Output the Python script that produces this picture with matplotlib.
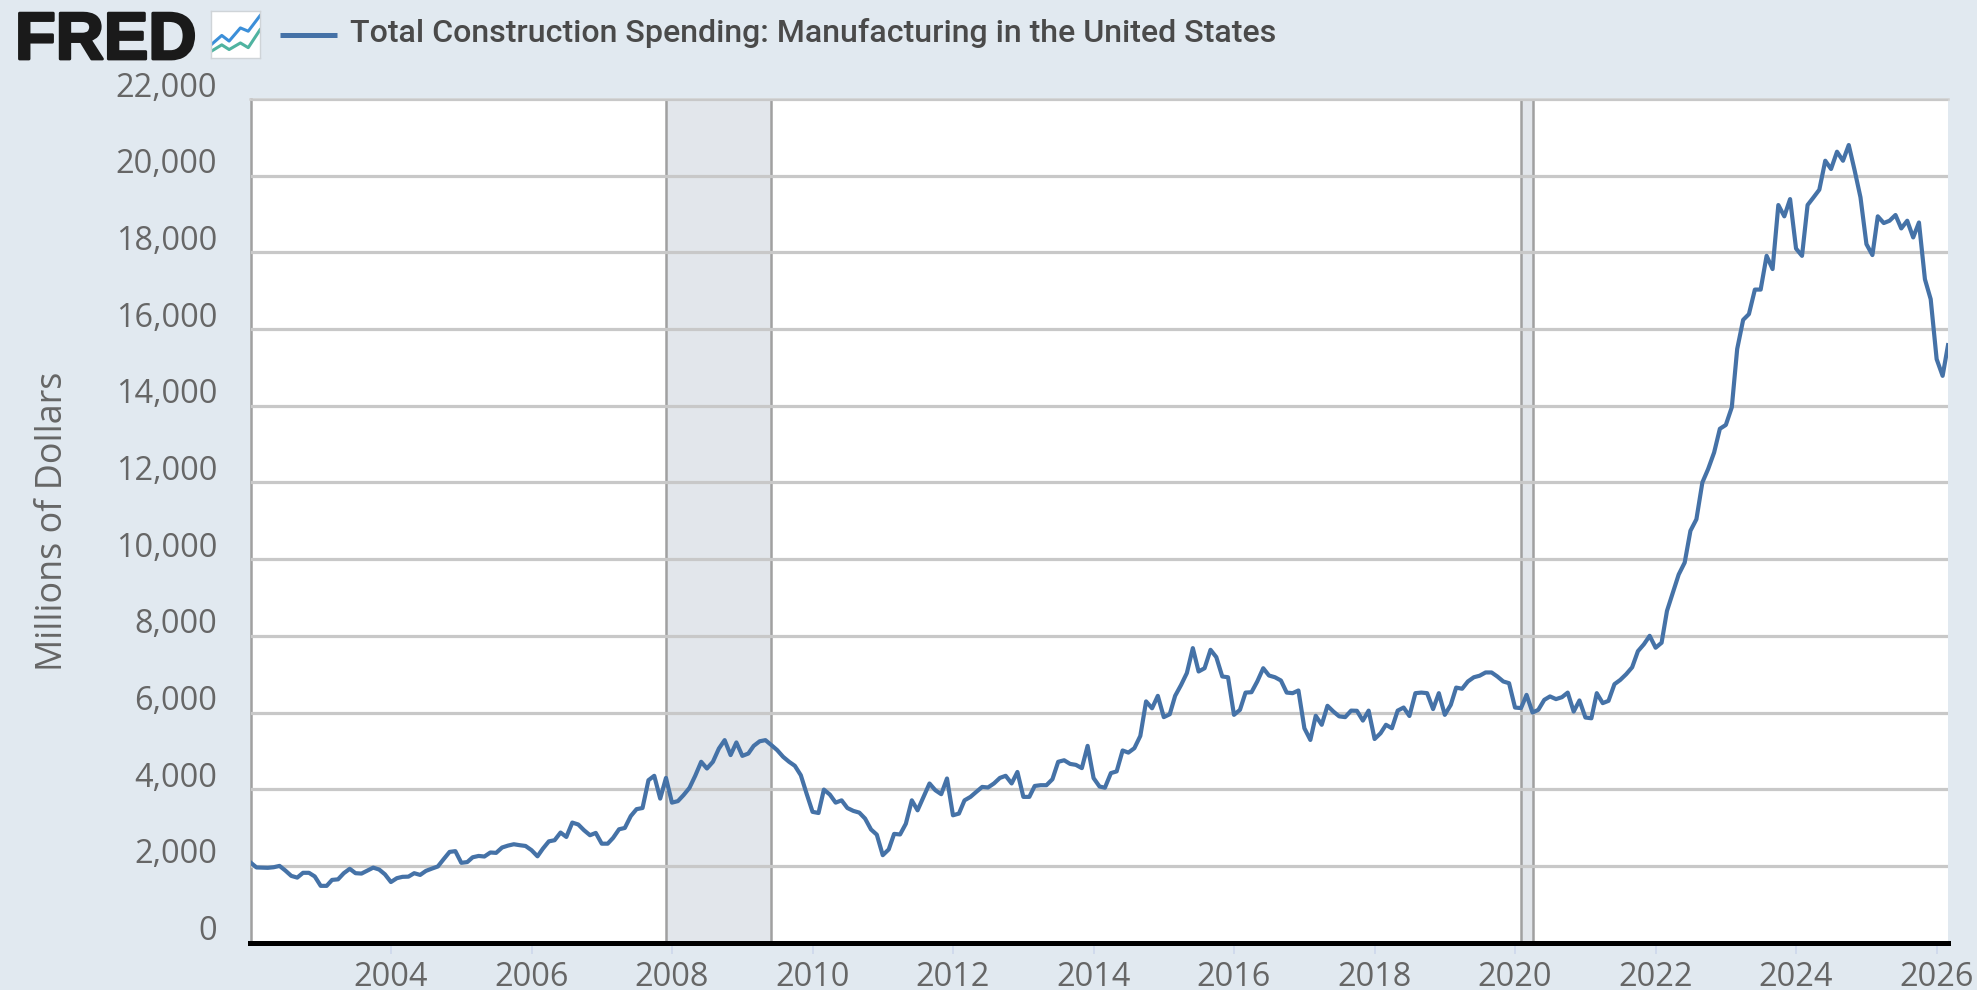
"""
FRED chart: Total Construction Spending, Manufacturing in the United States.
Saves out.png (1977x990).
"""

import matplotlib
matplotlib.use("Agg")
import matplotlib.dates as mdates
import matplotlib.patheffects as pe
import matplotlib.pyplot as plt
from matplotlib.lines import Line2D
from matplotlib.transforms import ScaledTranslation
import pandas as pd

# ── data (monthly from Jan 2002) ─────────────────────────────────────────────
Y2002 = [2090, 1960, 1955, 1950, 1965, 2000, 1880, 1740, 1695, 1820, 1820, 1725]
Y2003 = [1480, 1480, 1635, 1650, 1810, 1925, 1810, 1800, 1880, 1955, 1905, 1780]
Y2004 = [1580, 1680, 1715, 1720, 1810, 1765, 1870, 1930, 1985, 2175, 2365, 2385]
Y2005 = [2080, 2100, 2225, 2260, 2245, 2350, 2340, 2480, 2530, 2565, 2540, 2520]
Y2006 = [2410, 2250, 2450, 2640, 2670, 2870, 2755, 3130, 3080, 2930, 2800, 2860]
Y2007 = [2580, 2580, 2730, 2955, 2990, 3300, 3480, 3510, 4235, 4350, 3755, 4295]
Y2008 = [3650, 3690, 3845, 4035, 4350, 4715, 4540, 4715, 5060, 5280, 4890, 5220]
Y2009 = [4870, 4930, 5130, 5250, 5280, 5150, 5020, 4845, 4715, 4610, 4365, 3885]
Y2010 = [3410, 3380, 3990, 3860, 3650, 3710, 3510, 3435, 3390, 3235, 2950, 2815]
Y2011 = [2280, 2430, 2835, 2820, 3100, 3710, 3450, 3800, 4150, 3975, 3870, 4280]
Y2012 = [3320, 3365, 3710, 3800, 3930, 4060, 4045, 4150, 4295, 4350, 4150, 4450]
Y2013 = [3800, 3800, 4085, 4105, 4105, 4260, 4715, 4755, 4660, 4635, 4550, 5130]
Y2014 = [4290, 4070, 4040, 4420, 4465, 5010, 4955, 5070, 5390, 6290, 6110, 6435]
Y2015 = [5880, 5955, 6435, 6720, 7030, 7680, 7070, 7155, 7635, 7445, 6940, 6920]
Y2016 = [5940, 6070, 6520, 6530, 6810, 7155, 6965, 6920, 6835, 6520, 6505, 6575]
Y2017 = [5590, 5285, 5915, 5680, 6175, 6025, 5900, 5880, 6050, 6045, 5790, 6050]
Y2018 = [5310, 5460, 5680, 5590, 6050, 6130, 5910, 6505, 6520, 6505, 6090, 6505]
Y2019 = [5940, 6200, 6650, 6620, 6810, 6920, 6960, 7045, 7045, 6940, 6810, 6765]
Y2020 = [6130, 6115, 6460, 6000, 6070, 6330, 6420, 6350, 6400, 6520, 6025, 6315]
Y2021 = [5870, 5850, 6505, 6245, 6305, 6740, 6850, 7000, 7180, 7600, 7780, 8000]
Y2022 = [7690, 7820, 8650, 9130, 9600, 9910, 10740, 11040, 12000, 12350, 12780, 13400]
Y2023 = [13500, 13960, 15480, 16240, 16390, 17030, 17030, 17910, 17565, 19235, 18940, 19390]
Y2024 = [18100, 17910, 19235, 19435, 19635, 20390, 20175, 20625, 20390, 20800, 20130, 19435]
Y2025 = [18215, 17930, 18940, 18765, 18825, 18975, 18625, 18825, 18390, 18780, 17300, 16780]
Y2026 = [15215, 14780, 15580]

VALUES = (Y2002 + Y2003 + Y2004 + Y2005 + Y2006 + Y2007 + Y2008 + Y2009 + Y2010
          + Y2011 + Y2012 + Y2013 + Y2014 + Y2015 + Y2016 + Y2017 + Y2018 + Y2019
          + Y2020 + Y2021 + Y2022 + Y2023 + Y2024 + Y2025 + Y2026)
DATES = pd.date_range("2002-01-01", periods=len(VALUES), freq="MS")

RECESSIONS = [("2007-12-01", "2009-06-01"), ("2020-02-01", "2020-04-01")]
Y_TICKS = list(range(0, 22001, 2000))
X_YEARS = list(range(2004, 2027, 2))

TITLE = "Total Construction Spending: Manufacturing in the United States"
YLABEL = "Millions of Dollars"

# ── style ────────────────────────────────────────────────────────────────────
BG = "#e1e9f0"
LINE = "#4572a7"
GRID = "#c8c8c8"
EDGE = "#a0a0a0"
TEXT = "#666666"
W, H = 1977, 990
TICK_PT = 23.4

fig = plt.figure(figsize=(W / 100, H / 100), dpi=100, facecolor=BG)
ax = fig.add_axes([250.5 / W, 1 - 942.6 / H, (1948 - 250.5) / W, (942.6 - 99) / H])
ax.set_facecolor("white")

# ── chart ────────────────────────────────────────────────────────────────────
for start, end in RECESSIONS:
    ax.axvspan(pd.Timestamp(start), pd.Timestamp(end), facecolor="#cfd6de",
               alpha=0.6, edgecolor="none", zorder=1)
    for d in (start, end):
        ax.axvline(pd.Timestamp(d), color=EDGE, lw=1.8, zorder=2.5)

ax.plot(DATES, VALUES, color=LINE, lw=3.0, solid_joinstyle="round", zorder=3)

ax.set_xlim(DATES[0], DATES[-1])
ax.set_ylim(0, 22000)
ax.set_yticks(Y_TICKS)
ax.set_yticklabels([f"{v:,}" for v in Y_TICKS], family="Open Sans", fontsize=TICK_PT, color=TEXT)
ax.set_xticks([pd.Timestamp(f"{y}-01-01") for y in X_YEARS])
ax.xaxis.set_major_formatter(mdates.DateFormatter("%Y"))
ax.tick_params(axis="y", length=0, pad=24)
ax.tick_params(axis="x", length=8, width=1.1, color="#ccd6eb", pad=5, labelcolor=TEXT)
for lab in ax.get_xticklabels():
    lab.set_family("Open Sans")
    lab.set_fontsize(TICK_PT)

# FRED puts the y labels above their grid lines
up = ScaledTranslation(0, 15 / 100, fig.dpi_scale_trans)
for lab in ax.get_yticklabels():
    lab.set_transform(lab.get_transform() + up)

ax.grid(axis="y", color=GRID, lw=2.3, zorder=2)
ax.set_axisbelow(False)
for line in ax.get_ygridlines():
    line.set_zorder(2)
ax.spines["right"].set_visible(False)
ax.spines["top"].set_color("#d0d0d0")
ax.spines["top"].set_linewidth(1.8)
ax.spines["left"].set_color(EDGE)
ax.spines["left"].set_linewidth(1.8)
ax.spines["bottom"].set_color("black")
ax.spines["bottom"].set_linewidth(3.6)
ax.spines["bottom"].set_zorder(5)

fig.text(53 / W, 1 - 521 / H, YLABEL, rotation=90, ha="center", va="center",
         family="Open Sans", fontsize=25.8, color=TEXT)

# ── header: logo, icon, legend ───────────────────────────────────────────────
fig.text(15 / W, 1 - 59 / H, "FRED", ha="left", va="baseline", family="Liberation Sans",
         fontweight="bold", fontsize=48, color="#1a1a1a",
         path_effects=[pe.withStroke(linewidth=2.0, foreground="#1a1a1a")])

icon = fig.add_axes([211 / W, 1 - 58 / H, 49 / W, 47 / H], facecolor="white")
icon.plot([0, 0.22, 0.37, 0.6, 0.76, 1], [0.28, 0.48, 0.36, 0.64, 0.57, 0.9], color="#3b8fd9", lw=2.2)
icon.plot([0, 0.22, 0.37, 0.6, 0.76, 1], [0.14, 0.28, 0.18, 0.32, 0.22, 0.6], color="#4fb3a0", lw=2.2)
icon.set_xlim(0, 1)
icon.set_ylim(0, 1)
icon.set_xticks([])
icon.set_yticks([])
for s in icon.spines.values():
    s.set_color("#cfd4d8")
    s.set_linewidth(1.0)

fig.add_artist(Line2D([280 / W, 337 / W], [1 - 35 / H, 1 - 35 / H], color=LINE, lw=3.6,
                      solid_capstyle="butt"))
fig.text(350 / W, 1 - 33 / H, TITLE, ha="left", va="center", family="Roboto",
         fontweight="medium", fontsize=23.1, color="#4a4a4a")

fig.savefig("out.png", dpi=100, facecolor=BG)
